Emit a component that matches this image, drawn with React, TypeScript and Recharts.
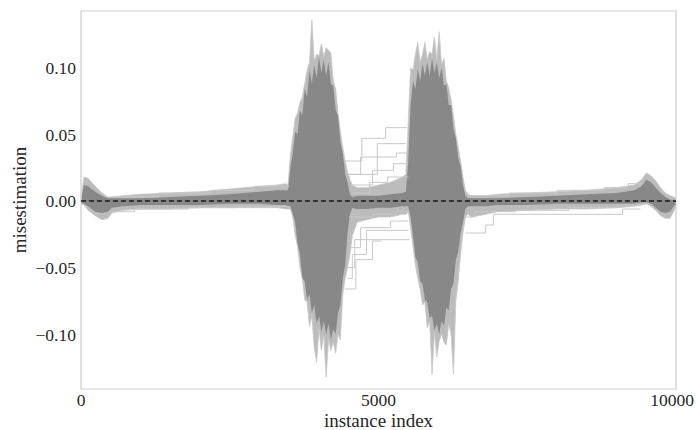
import {
  Area,
  ComposedChart,
  Line,
  ReferenceArea,
  ReferenceLine,
  XAxis,
  YAxis,
} from "recharts";

const FONT = '"Liberation Serif", "DejaVu Serif", serif';
const TEXT = "#262626";

const xTicks = [0, 5000, 10000];
const yTicks = [-0.1, -0.05, 0, 0.05, 0.1];
const yDomain = [-0.141, 0.1425];

// instance index grid for the envelope of all the runs (finer inside the two bursts)
const idx = [
  0, 50, 120, 240, 350, 450, 520, 700, 1000, 1500, 2000, 2500, 3000, 3300, 3440,
  3480, 3520, 3560, 3600, 3640, 3680, 3720, 3760, 3800, 3840, 3880, 3920, 3960, 4000,
  4040, 4080, 4120, 4160, 4200, 4240, 4280, 4320, 4360, 4400, 4440, 4480, 4520, 4560,
  4640, 4800, 5000, 5200, 5400, 5460,
  5500, 5540, 5580, 5620, 5660, 5700, 5740, 5780, 5820, 5860, 5900, 5940, 5980, 6020,
  6060, 6100, 6140, 6180, 6220, 6260, 6300, 6340, 6380, 6420, 6460, 6500,
  6560, 6800, 7000, 7500, 8000, 8500, 9000, 9300, 9420, 9500, 9580, 9660, 9740, 9820,
  9900, 9960, 10000,
];

// outer (spike tips) and inner (dense) envelopes
const outerHi = [
  0.002, 0.018, 0.017, 0.011, 0.006, 0.003, 0.003, 0.004, 0.005, 0.006, 0.007, 0.009, 0.011, 0.012, 0.013,
  0.012, 0.035, 0.048, 0.062, 0.066, 0.074, 0.078, 0.088, 0.098, 0.104, 0.136, 0.105, 0.11, 0.109,
  0.118, 0.108, 0.115, 0.113, 0.111, 0.09, 0.084, 0.066, 0.052, 0.04, 0.03, 0.022, 0.016, 0.012,
  0.01, 0.01, 0.012, 0.014, 0.018, 0.02,
  0.06, 0.1, 0.098, 0.11, 0.119, 0.104, 0.11, 0.119, 0.106, 0.112, 0.11, 0.123, 0.106, 0.127,
  0.102, 0.107, 0.09, 0.085, 0.076, 0.064, 0.05, 0.04, 0.03, 0.018, 0.008, 0.005,
  0.004, 0.004, 0.005, 0.006, 0.007, 0.008, 0.01, 0.012, 0.016, 0.021, 0.019, 0.015, 0.01, 0.006,
  0.004, 0.003, 0.002,
];
const innerHi = [
  0.001, 0.012, 0.011, 0.007, 0.004, 0.002, 0.002, 0.002, 0.002, 0.003, 0.004, 0.005, 0.007, 0.008, 0.008,
  0.008, 0.025, 0.036, 0.052, 0.05, 0.068, 0.064, 0.084, 0.078, 0.098, 0.088, 0.102, 0.092, 0.108,
  0.096, 0.106, 0.094, 0.104, 0.088, 0.086, 0.068, 0.064, 0.044, 0.036, 0.02, 0.014, 0.005, 0.003,
  0.004, 0.004, 0.004, 0.005, 0.006, 0.007,
  0.03, 0.072, 0.09, 0.084, 0.099, 0.09, 0.103, 0.094, 0.104, 0.094, 0.107, 0.096, 0.104, 0.092,
  0.1, 0.086, 0.088, 0.072, 0.072, 0.054, 0.047, 0.032, 0.026, 0.012, 0.004, 0.002,
  0.002, 0.002, 0.002, 0.003, 0.004, 0.005, 0.006, 0.008, 0.011, 0.016, 0.014, 0.01, 0.006, 0.003,
  0.001, 0.001, 0.001,
];
const innerLo = [
  -0.001, -0.002, -0.004, -0.008, -0.009, -0.008, -0.005, -0.004, -0.003, -0.003, -0.003, -0.002, -0.002, -0.003, -0.003,
  -0.004, -0.004, -0.01, -0.016, -0.032, -0.04, -0.058, -0.06, -0.074, -0.07, -0.084, -0.078, -0.092, -0.086,
  -0.098, -0.09, -0.1, -0.092, -0.104, -0.096, -0.1, -0.084, -0.078, -0.058, -0.048, -0.024, -0.01, -0.005,
  -0.006, -0.006, -0.005, -0.005, -0.004, -0.004,
  -0.004, -0.012, -0.026, -0.042, -0.046, -0.06, -0.062, -0.074, -0.076, -0.088, -0.086, -0.097, -0.092, -0.1,
  -0.09, -0.094, -0.08, -0.082, -0.066, -0.062, -0.044, -0.038, -0.024, -0.016, -0.006, -0.004,
  -0.004, -0.004, -0.003, -0.003, -0.002, -0.002, -0.002, -0.002, -0.001, -0.001, -0.002, -0.005, -0.008, -0.009,
  -0.008, -0.004, -0.002,
];
const outerLo = [
  -0.002, -0.003, -0.007, -0.011, -0.014, -0.013, -0.009, -0.007, -0.006, -0.006, -0.005, -0.005, -0.005, -0.005, -0.006,
  -0.006, -0.006, -0.012, -0.026, -0.034, -0.05, -0.058, -0.074, -0.076, -0.094, -0.086, -0.11, -0.121, -0.096,
  -0.112, -0.1, -0.132, -0.104, -0.112, -0.106, -0.114, -0.1, -0.104, -0.07, -0.058, -0.05, -0.04, -0.026,
  -0.016, -0.014, -0.012, -0.012, -0.01, -0.01,
  -0.008, -0.02, -0.034, -0.048, -0.058, -0.066, -0.078, -0.076, -0.095, -0.09, -0.13, -0.098, -0.117, -0.105,
  -0.1, -0.106, -0.108, -0.092, -0.1, -0.13, -0.075, -0.06, -0.04, -0.024, -0.012, -0.01,
  -0.012, -0.01, -0.008, -0.007, -0.006, -0.006, -0.005, -0.004, -0.003, -0.002, -0.004, -0.007, -0.011, -0.013,
  -0.013, -0.008, -0.004,
];

// a few of the sparse, step-shaped runs
const stepX = [
  [4420, 4720, 5120, 5480],
  [4480, 4700, 5300, 5500],
  [4540, 4900, 5250, 5500],
  [4560, 4850, 5150, 5500],
  [4470, 4980, 5460],
  [4450, 4600, 5000, 5520],
  [4430, 4620, 4900, 5050],
  [4480, 4560, 4800, 5500],
  [4520, 4700, 5200, 5500],
  [4500, 4900, 5300, 5500],
  [6460, 6800, 6930, 9100, 9400],
  [6440, 6620, 7300, 8200, 9000, 9400],
  [6500, 7200, 8000, 8800, 9200, 9450],
  [500, 1300, 2200, 2900, 3500],
  [480, 900, 1800, 2600, 3500],
];
const stepY = [
  [0.03, 0.047, 0.055, 0.055],
  [0.02, 0.033, 0.036, 0.036],
  [0.012, 0.023, 0.028, 0.028],
  [0.006, 0.014, 0.018, 0.018],
  [0.02, 0.043, 0.043],
  [-0.05, -0.029, -0.029, -0.029],
  [-0.066, -0.044, -0.03, -0.03],
  [-0.058, -0.04, -0.022, -0.022],
  [-0.035, -0.02, -0.015, -0.015],
  [-0.012, -0.01, -0.008, -0.008],
  [-0.024, -0.018, -0.01, -0.006, -0.006],
  [-0.012, -0.008, -0.007, -0.005, -0.003, -0.003],
  [0.004, 0.006, 0.008, 0.01, 0.013, 0.013],
  [0.003, 0.006, 0.008, 0.011, 0.011],
  [-0.008, -0.006, -0.005, -0.004, -0.004],
];

const band = idx.map((x, i) => ({
  x,
  outer: [outerLo[i], outerHi[i]],
  inner: [innerLo[i], innerHi[i]],
}));

const steps = stepX.map((xs, k) => xs.map((x, i) => ({ x, y: stepY[k][i] })));

const fmtY = (v: number) => {
  const s = Math.abs(v).toFixed(2);
  return v < 0 ? `\u2212${s}` : s;
};

// keep the last x label inside the picture, like matplotlib does at the frame edge
const XTick = (props: any) => {
  const { x, y, payload } = props;
  const last = payload.value === xTicks[xTicks.length - 1];
  return (
    <text
      x={last ? x + 18 : x}
      y={y}
      dy="0.71em"
      textAnchor={last ? "end" : "middle"}
      fontSize={17.5}
      fill={TEXT}
      style={{ fontFamily: FONT }}
    >
      {payload.value}
    </text>
  );
};

export default function App() {
  return (
    <div
      style={{
        position: "absolute",
        left: 0,
        top: 0,
        width: 696,
        height: 430,
        background: "#fff",
        fontFamily: FONT,
      }}
    >
      <ComposedChart
        width={696}
        height={430}
        margin={{ top: 11, right: 20, bottom: 0, left: 0 }}
      >
        <XAxis
          type="number"
          dataKey="x"
          domain={[0, 10000]}
          ticks={xTicks}
          interval={0}
          allowDataOverflow
          axisLine={false}
          tickLine={false}
          tickSize={0}
          tickMargin={5}
          height={41}
          tick={<XTick />}
          label={{
            value: "instance index",
            position: "insideBottom",
            offset: 3,
            fontSize: 19,
            fill: TEXT,
            style: { fontFamily: FONT },
          }}
        />
        <YAxis
          type="number"
          domain={yDomain}
          ticks={yTicks}
          interval={0}
          allowDataOverflow
          axisLine={false}
          tickLine={false}
          tickSize={0}
          tickMargin={5}
          width={81}
          tickFormatter={fmtY}
          tick={{ fontSize: 17.5, fill: TEXT, style: { fontFamily: FONT } }}
          label={{
            value: "misestimation",
            angle: -90,
            position: "insideLeft",
            offset: 19,
            fontSize: 19,
            fill: TEXT,
            style: { textAnchor: "middle", fontFamily: FONT },
          }}
        />
        <Area
          data={band}
          dataKey="outer"
          type="linear"
          stroke="#c8c8c8"
          strokeWidth={0.8}
          fill="#bcbcbc"
          fillOpacity={1}
          isAnimationActive={false}
          activeDot={false}
        />
        {steps.map((d, k) => (
          <Line
            key={k}
            data={d}
            dataKey="y"
            type="stepAfter"
            stroke="#c8c8c8"
            strokeWidth={1}
            dot={false}
            activeDot={false}
            isAnimationActive={false}
          />
        ))}
        <Area
          data={band}
          dataKey="inner"
          type="linear"
          stroke="none"
          fill="#888888"
          fillOpacity={1}
          isAnimationActive={false}
          activeDot={false}
        />
        <ReferenceLine
          y={0}
          stroke="#1a1a1a"
          strokeWidth={1.4}
          strokeDasharray="5 3"
        />
        <ReferenceArea
          x1={0}
          x2={10000}
          y1={yDomain[0]}
          y2={yDomain[1]}
          fill="none"
          stroke="#cccccc"
          strokeWidth={1.2}
        />
      </ComposedChart>
    </div>
  );
}
